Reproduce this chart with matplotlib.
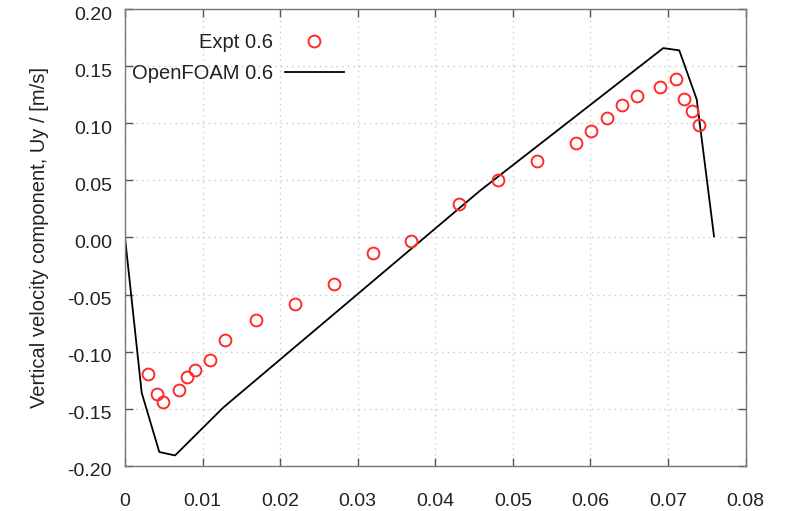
import matplotlib
matplotlib.use("Agg")
import matplotlib.pyplot as plt
import matplotlib.transforms as mtransforms
from matplotlib.ticker import FixedLocator, FixedFormatter

plt.rcParams['font.family'] = ['Liberation Sans', 'DejaVu Sans']
plt.rcParams['axes.unicode_minus'] = False

# experimental points (Expt 0.6)
expt_x = [0.003, 0.0041, 0.0049, 0.0070, 0.0080, 0.0090, 0.0110, 0.0129,
          0.0169, 0.0219, 0.0269, 0.0320, 0.0369, 0.0431, 0.0481, 0.0531,
          0.0581, 0.0601, 0.0621, 0.0641, 0.0660, 0.0690, 0.0710, 0.0720,
          0.0731, 0.0740]
expt_y = [-0.120, -0.137, -0.144, -0.134, -0.122, -0.116, -0.107, -0.090,
          -0.072, -0.058, -0.041, -0.014, -0.003, 0.029, 0.050, 0.067,
          0.083, 0.093, 0.105, 0.116, 0.124, 0.132, 0.139, 0.121,
          0.111, 0.099]

# simulation profile (OpenFOAM 0.6)
sim_x = [0.0, 0.00215, 0.00442, 0.00645, 0.01267, 0.02922, 0.04576, 0.06939,
         0.07145, 0.07370, 0.07593]
sim_y = [0.0, -0.136, -0.188, -0.191, -0.149, -0.054, 0.041, 0.166,
         0.164, 0.121, 0.001]

x_ticks = [0, 0.01, 0.02, 0.03, 0.04, 0.05, 0.06, 0.07, 0.08]
x_labels = ['0', '0.01', '0.02', '0.03', '0.04', '0.05', '0.06', '0.07', '0.08']
y_ticks = [-0.20, -0.15, -0.10, -0.05, 0.00, 0.05, 0.10, 0.15, 0.20]
y_labels = ['-0.20', '-0.15', '-0.10', '-0.05', '0.00', '0.05', '0.10', '0.15', '0.20']

fig = plt.figure(figsize=(7.86, 5.11), dpi=100)
ax = fig.add_axes([125 / 786, 1 - 465.7 / 511, 620.6 / 786, 456.4 / 511])

ax.plot(expt_x, expt_y, linestyle='none', marker='o', markersize=8.5,
        markerfacecolor='none', markeredgecolor='#ff2a2a', markeredgewidth=1.4,
        label='Expt 0.6', zorder=3)
ax.plot(sim_x, sim_y, color='black', linewidth=1.3, label='OpenFOAM 0.6', zorder=2)

ax.set_xlim(0, 0.08)
ax.set_ylim(-0.2, 0.2)
ax.xaxis.set_major_locator(FixedLocator(x_ticks))
ax.xaxis.set_major_formatter(FixedFormatter(x_labels))
ax.yaxis.set_major_locator(FixedLocator(y_ticks))
ax.yaxis.set_major_formatter(FixedFormatter(y_labels))

ax.tick_params(direction='in', length=6, width=1, color='#555555',
               top=True, right=True, labelsize=14, labelcolor='#222222')
ax.tick_params(axis='y', pad=9.5)
ax.tick_params(axis='x', pad=20)
down = mtransforms.ScaledTranslation(0, -4 / 100, fig.dpi_scale_trans)
for lab in ax.get_yticklabels():
    lab.set_transform(lab.get_transform() + down)
for s in ax.spines.values():
    s.set_color('#777777')
    s.set_linewidth(1)

ax.grid(True, color='#c8c8c8', linestyle=(0, (1, 3)), linewidth=1)
ax.set_axisbelow(True)

ax.set_ylabel('Vertical velocity component, Uy / [m/s]', fontsize=14.5,
              color='#222222', labelpad=13)

ax.legend(loc='upper left', bbox_to_anchor=(0.0108, 0.948), frameon=False,
          markerfirst=False, handlelength=2.97, handletextpad=0.58,
          labelspacing=0.58, borderpad=0, borderaxespad=0, fontsize=14.5,
          labelcolor='#222222')

fig.savefig('out.png', dpi=100)
